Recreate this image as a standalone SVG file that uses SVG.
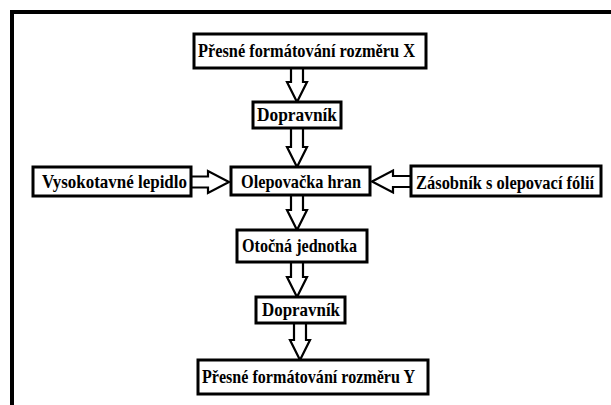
<svg xmlns="http://www.w3.org/2000/svg" width="611" height="405" viewBox="0 0 611 405">
<style>
.box{fill:#fff;stroke:#000;stroke-width:3}
.arr{fill:#fff;stroke:#000;stroke-width:2.2;stroke-linejoin:miter}
.t{font-family:"Liberation Serif","Times New Roman",serif;font-weight:bold;font-size:19.5px;fill:#000}
</style>
<rect x="0" y="0" width="611" height="405" fill="#fff"/>
<rect x="12" y="12" width="640" height="440" fill="none" stroke="#000" stroke-width="4"/>
<g id="connectors">
<polygon class="arr" points="291,68 291,82 287,82 297,102 307,82 303,82 303,68"/>
<polygon class="arr" points="291,128 291,147 287,147 297,167 307,147 303,147 303,128"/>
<polygon class="arr" points="291,195 291,210 287,210 297,230 307,210 303,210 303,195"/>
<polygon class="arr" points="291,262 291,277 287,277 297,297 307,277 303,277 303,262"/>
<polygon class="arr" points="294,323 294,340 290,340 300,360 310,340 306,340 306,323"/>
<polygon class="arr" points="191,176.5 208,176.5 208,171 229,182 208,193 208,187.5 191,187.5"/>
<polygon class="arr" points="411,176 393,176 393,170.5 372,181.5 393,192.5 393,187 411,187"/>
</g>
<g id="n1"><rect class="box" x="194" y="34" width="232" height="34"/><text class="t" x="198" y="57" textLength="217" lengthAdjust="spacingAndGlyphs">Přesné formátování rozměru X</text></g>
<g id="n2"><rect class="box" x="253" y="102" width="88" height="26"/><text class="t" x="257" y="121" textLength="80" lengthAdjust="spacingAndGlyphs">Dopravník</text></g>
<g id="n3"><rect class="box" x="231" y="167" width="139" height="28"/><text class="t" x="241" y="188" textLength="120" lengthAdjust="spacingAndGlyphs">Olepovačka hran</text></g>
<g id="n4"><rect class="box" x="33" y="167" width="158" height="29"/><text class="t" x="42" y="188" textLength="145" lengthAdjust="spacingAndGlyphs">Vysokotavné lepidlo</text></g>
<g id="n5"><rect class="box" x="411" y="166" width="190" height="30"/><text class="t" transform="translate(416,188.5) scale(0.845,1)" x="0" y="0">Zásobník s olepovací fólií</text></g>
<g id="n6"><rect class="box" x="237" y="230" width="130" height="32"/><text class="t" x="242" y="252" textLength="115" lengthAdjust="spacingAndGlyphs">Otočná jednotka</text></g>
<g id="n7"><rect class="box" x="256" y="297" width="89" height="26"/><text class="t" x="262" y="316" textLength="78" lengthAdjust="spacingAndGlyphs">Dopravník</text></g>
<g id="n8"><rect class="box" x="198" y="360" width="230" height="34"/><text class="t" x="202" y="383" textLength="213" lengthAdjust="spacingAndGlyphs">Přesné formátování rozměru Y</text></g>
</svg>
